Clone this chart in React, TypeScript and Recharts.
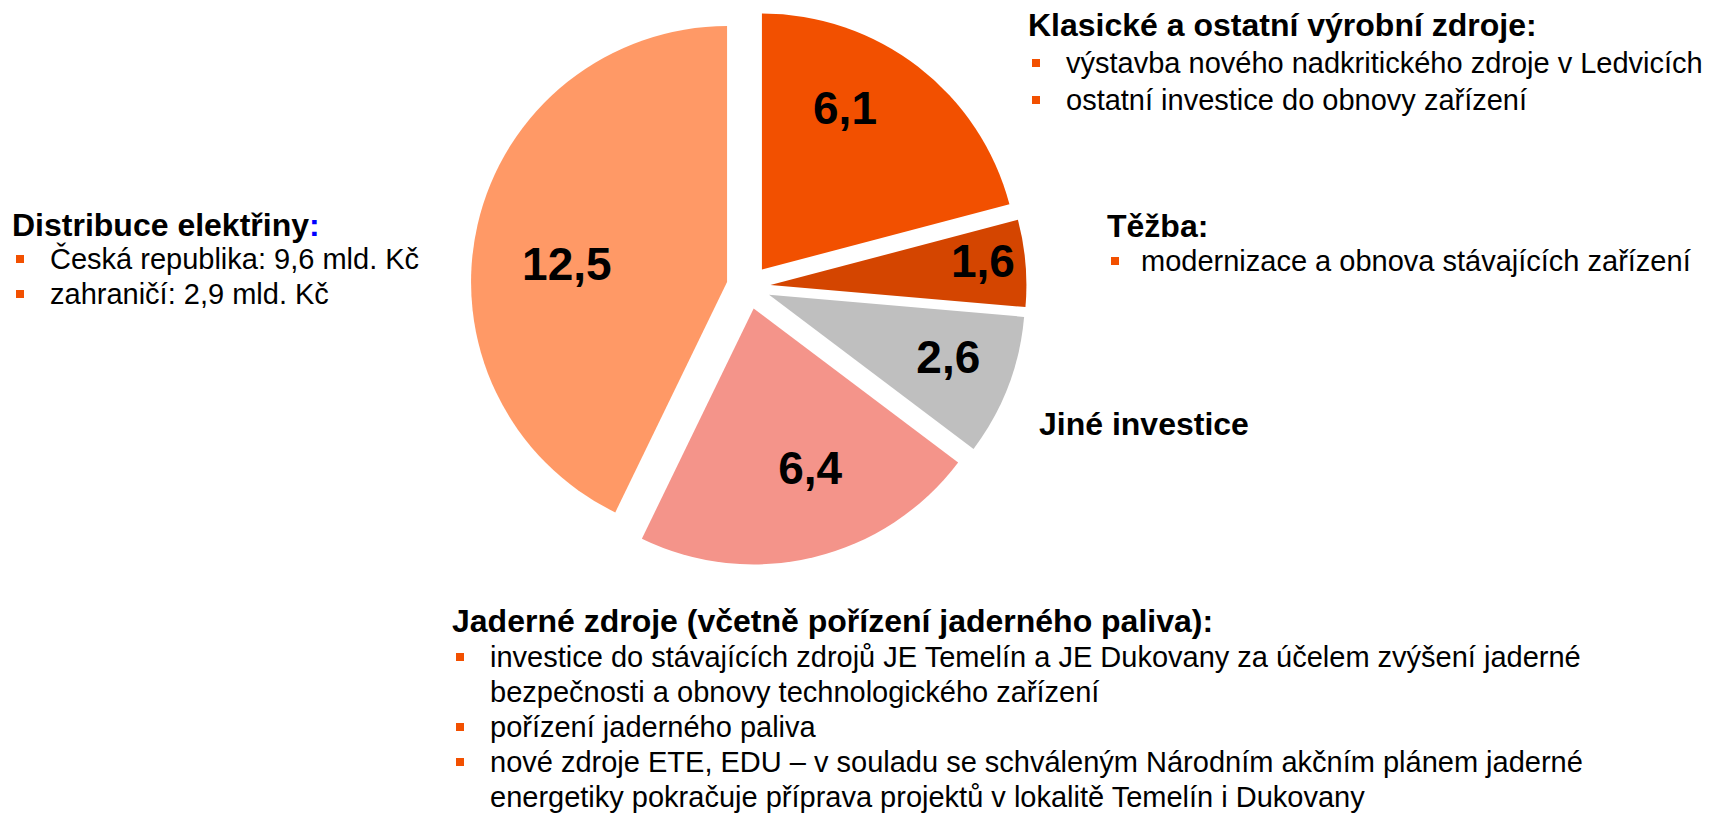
import React from "react";
import { PieChart, Pie, Cell, Sector } from "recharts";

// investment split, bn CZK (slices clockwise from 12 o'clock)
const segments = ["Klasické", "Těžba", "Jiné", "Jaderné", "Distribuce"];
const values = [6.1, 1.6, 2.6, 6.4, 12.5];
const colors = ["#F25000", "#D44500", "#BFBFBF", "#F4948A", "#FF9966"];

const chartData = segments.map((name, i) => ({ name, value: values[i] }));

// layout
const W = 1715;
const H = 814;
const CX = 748.5;
const CY = 287;
const R = 256;
const EXPLODE = 22;
const labelRadius = [0.71, 0.836, 0.74, 0.66, 0.63];
const labelShift = [-10.4, -1.8, -2.1, -6, -6.4]; // degrees clockwise
const FONT = "'Liberation Sans', Arial, Helvetica, sans-serif";
const ORANGE = "#F25000";

const RAD = Math.PI / 180;

const renderSlice = (props: any) => {
  const { cx, cy, midAngle, outerRadius, startAngle, endAngle, index } = props;
  const dx = EXPLODE * Math.cos(midAngle * RAD);
  const dy = -EXPLODE * Math.sin(midAngle * RAD);
  const a = (midAngle - labelShift[index]) * RAD;
  const r = outerRadius * labelRadius[index];
  const lx = cx + dx + r * Math.cos(a);
  const ly = cy + dy - r * Math.sin(a);
  return (
    <g key={"slice-" + index}>
      <Sector
        cx={cx + dx}
        cy={cy + dy}
        innerRadius={0}
        outerRadius={outerRadius}
        startAngle={startAngle}
        endAngle={endAngle}
        fill={colors[index]}
        stroke="none"
      />
      <text
        x={lx}
        y={ly + 16.5}
        textAnchor="middle"
        fontFamily={FONT}
        fontWeight="bold"
        fontSize={46}
        fill="#000"
      >
        {values[index].toFixed(1).replace(".", ",")}
      </text>
    </g>
  );
};

type Line = { text: string; bullet?: boolean };

const TextBlock = ({
  x,
  y,
  title,
  lines,
  step = 35,
  firstGap = 35,
  indent = 38,
  blueColon = false,
}: {
  x: number;
  y: number;
  title: string;
  lines: Line[];
  step?: number;
  firstGap?: number;
  indent?: number;
  blueColon?: boolean;
}) => (
  <g fontFamily={FONT}>
    <text x={x} y={y} fontSize={32} fontWeight="bold" fill="#000">
      {blueColon ? title.slice(0, -1) : title}
      {blueColon && <tspan fill="#0000FF">:</tspan>}
    </text>
    {lines.map((l, i) => {
      const by = y + firstGap + i * step;
      return (
        <g key={i}>
          {l.bullet && (
            <rect x={x + 4} y={by - 14} width={8} height={8} fill={ORANGE} />
          )}
          <text x={x + indent} y={by} fontSize={29} fill="#000">
            {l.text}
          </text>
        </g>
      );
    })}
  </g>
);

export default function App() {
  return (
    <div
      style={{
        position: "absolute",
        left: 0,
        top: 0,
        width: W,
        height: H,
        background: "#fff",
      }}
    >
      <PieChart width={W} height={H} margin={{ top: 0, right: 0, bottom: 0, left: 0 }}>
        <Pie
          data={chartData}
          dataKey="value"
          nameKey="name"
          cx={CX}
          cy={CY}
          outerRadius={R}
          startAngle={90}
          endAngle={-270}
          stroke="none"
          label={renderSlice}
          labelLine={false}
          isAnimationActive={false}
        >
          {chartData.map((d) => (
            <Cell key={d.name} fill="none" stroke="none" />
          ))}
        </Pie>
      </PieChart>
      <svg
        width={W}
        height={H}
        style={{ position: "absolute", left: 0, top: 0, pointerEvents: "none" }}
      >
        <TextBlock
          x={1028}
          y={36}
          title="Klasické a ostatní výrobní zdroje:"
          firstGap={37}
          step={37}
          lines={[
            { text: "výstavba nového nadkritického zdroje v Ledvicích", bullet: true },
            { text: "ostatní investice do obnovy zařízení", bullet: true },
          ]}
        />
        <TextBlock
          x={12}
          y={236}
          title="Distribuce elektřiny:"
          blueColon
          firstGap={33}
          step={35}
          lines={[
            { text: "Česká republika: 9,6 mld. Kč", bullet: true },
            { text: "zahraničí: 2,9 mld. Kč", bullet: true },
          ]}
        />
        <TextBlock
          x={1107}
          y={237}
          title="Těžba:"
          firstGap={34}
          indent={34}
          lines={[{ text: "modernizace a obnova stávajících zařízení", bullet: true }]}
        />
        <TextBlock x={1039} y={435} title="Jiné investice" lines={[]} />
        <TextBlock
          x={452}
          y={632}
          title="Jaderné zdroje (včetně pořízení jaderného paliva):"
          firstGap={35}
          step={35}
          lines={[
            {
              text: "investice do stávajících zdrojů JE Temelín a JE Dukovany za účelem zvýšení jaderné",
              bullet: true,
            },
            { text: "bezpečnosti a obnovy technologického zařízení" },
            { text: "pořízení jaderného paliva", bullet: true },
            {
              text: "nové zdroje ETE, EDU – v souladu se schváleným Národním akčním plánem jaderné",
              bullet: true,
            },
            { text: "energetiky pokračuje příprava projektů v lokalitě Temelín i Dukovany" },
          ]}
        />
      </svg>
    </div>
  );
}
